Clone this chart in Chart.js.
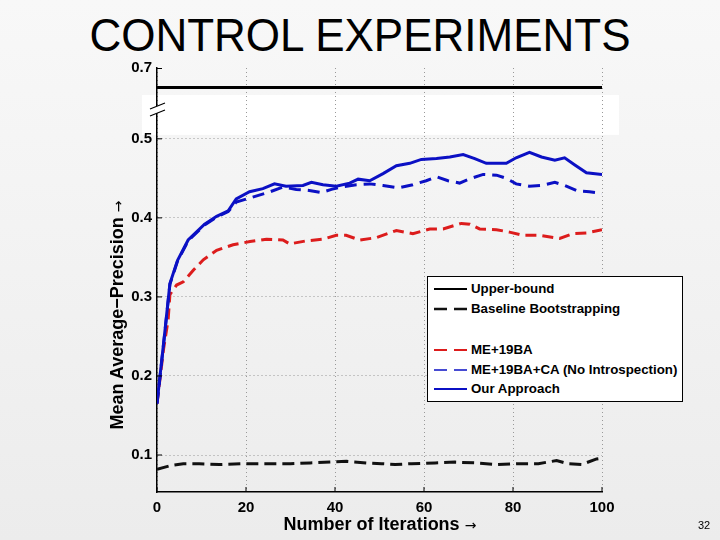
<!DOCTYPE html>
<html>
<head>
<meta charset="utf-8">
<script src="https://cdn.jsdelivr.net/npm/chart.js@4.4.0/dist/chart.umd.min.js"></script>
<style>
  html, body { margin: 0; padding: 0; }
  body {
    width: 720px; height: 540px; position: relative; overflow: hidden;
    background: linear-gradient(#f8f8f8, #ececec);
    font-family: "Liberation Sans", Arial, Helvetica, sans-serif; color: #000;
  }
  #chart { position: absolute; left: 0; top: 0; }
  .title {
    position: absolute; top: 13px; left: 0; width: 720px; text-align: center;
    font-size: 44px; line-height: 44px; transform: scaleY(1.05);
  }
  .ytitle {
    position: absolute; left: -33px; top: 305px; width: 300px; height: 20px;
    line-height: 20px; text-align: center; font-size: 18px; font-weight: bold;
    transform: rotate(-90deg); white-space: nowrap;
  }
  .xtitle {
    position: absolute; left: 230px; top: 513px; width: 300px; height: 22px;
    line-height: 22px; text-align: center; font-size: 18px; font-weight: bold; white-space: nowrap;
  }
  .arrow { font-weight: normal; font-family: "DejaVu Sans", sans-serif; font-size: 14px; }
  .page { position: absolute; left: 698px; top: 519px; font-size: 11px; }
  .legend {
    position: absolute; left: 427px; top: 276px; width: 254px; height: 124px;
    background: #fff; border: 1px solid #000;
  }
  .legend .row {
    position: absolute; left: 6px; height: 16px; line-height: 16px;
    font-size: 13.3px; font-weight: bold; white-space: nowrap;
  }
  .legend svg { position: absolute; left: 0; top: 0; }
  .legend span { position: absolute; left: 37px; top: 0; }
</style>
</head>
<body>
<div class="title">CONTROL EXPERIMENTS</div>
<canvas id="chart" width="720" height="540"></canvas>
<div class="ytitle">Mean Average−Precision <span class="arrow">→</span></div>
<div class="xtitle">Number of Iterations <span class="arrow">→</span></div>
<div class="page">32</div>
<div class="legend" id="legend"></div>
<script>
// tick labels
const xTicks = [0, 20, 40, 60, 80, 100];
const yTicks = [0.1, 0.2, 0.3, 0.4, 0.5];
const yTopTicks = [0.7];

// Upper-bound
const upperIter = [0, 100];
const upperMAP = [0.675, 0.675];

// Baseline Bootstrapping
const baseIter = [0, 3.3, 5.9, 9.5, 14, 19.4, 25, 30, 34.4, 38.9, 42.6, 47.1, 50.5, 53.5, 57.2, 62.5, 67, 71.5, 76.3, 81.2, 85.7, 89.8, 92.4, 95.4, 98.8, 100];
const baseMAP = [0.082, 0.087, 0.089, 0.089, 0.088, 0.089, 0.089, 0.089, 0.090, 0.091, 0.092, 0.090, 0.089, 0.088, 0.089, 0.090, 0.091, 0.090, 0.088, 0.089, 0.089, 0.093, 0.089, 0.088, 0.095, 0.096];

// ME+19BA
const meIter = [0, 1.5, 2.5, 2.9, 4.4, 5.9, 8.2, 10.4, 13.4, 17.1, 20.9, 24.6, 28.3, 29.8, 33.6, 37.3, 40.3, 42.5, 45.5, 49.3, 53.8, 57.5, 61.3, 64.3, 68.4, 70.3, 72.5, 76.3, 79.2, 82.2, 85.8, 90.5, 93.5, 96.5, 100];
const meMAP = [0.165, 0.235, 0.271, 0.303, 0.315, 0.319, 0.334, 0.347, 0.359, 0.366, 0.370, 0.373, 0.372, 0.367, 0.371, 0.373, 0.378, 0.378, 0.372, 0.375, 0.384, 0.380, 0.386, 0.386, 0.393, 0.392, 0.386, 0.385, 0.382, 0.378, 0.378, 0.374, 0.380, 0.381, 0.385];

// ME+19BA+CA (No Introspection)
const caIter = [0, 0.7, 1.8, 2.9, 4.6, 7, 10.7, 13.4, 16, 17.8, 20.8, 24.9, 28.3, 31.3, 33.9, 36.9, 39.2, 41.4, 44.8, 47.8, 50.8, 54.2, 57.5, 60.5, 62.8, 65.4, 68, 70.6, 73.3, 76.3, 78.5, 80.7, 83.7, 86.4, 89.4, 91.6, 94.6, 97.2, 100];
const caMAP = [0.165, 0.200, 0.257, 0.316, 0.345, 0.371, 0.391, 0.401, 0.408, 0.420, 0.425, 0.432, 0.439, 0.436, 0.435, 0.432, 0.436, 0.439, 0.442, 0.443, 0.441, 0.438, 0.442, 0.447, 0.452, 0.447, 0.444, 0.450, 0.455, 0.454, 0.450, 0.443, 0.440, 0.441, 0.445, 0.441, 0.434, 0.433, 0.431];

// Our Approach
const ourIter = [0, 0.7, 1.8, 2.9, 4.6, 7, 10.7, 13.4, 16, 17.8, 20.8, 23.8, 26.4, 29, 32.8, 34.7, 37.3, 40.3, 43.3, 45.2, 47.8, 50.8, 53.8, 56.8, 59.4, 62.8, 65.8, 68.8, 71.4, 74, 78.5, 80.7, 83.7, 86.4, 89.4, 91.6, 93.9, 96.5, 100];
const ourMAP = [0.165, 0.201, 0.258, 0.317, 0.346, 0.372, 0.392, 0.402, 0.409, 0.424, 0.433, 0.437, 0.443, 0.440, 0.441, 0.445, 0.442, 0.440, 0.444, 0.449, 0.447, 0.456, 0.466, 0.469, 0.474, 0.475, 0.477, 0.480, 0.475, 0.469, 0.469, 0.476, 0.483, 0.477, 0.473, 0.476, 0.467, 0.457, 0.455];

const BLUE = "#0b10c4";
const RED = "#dc1c1c";

const pts = (xs, ys) => xs.map((x, i) => ({ x: x, y: ys[i] }));

const series = [
    { label: "Upper-bound", data: pts(upperIter, upperMAP), yAxisID: "yTop", borderColor: "#000", borderWidth: 3, borderDash: [], order: 4, legendWidth: 2, legendY: 4 },
    { label: "Baseline Bootstrapping", data: pts(baseIter, baseMAP), borderColor: "#111", borderWidth: 3, borderDash: [12, 6], order: 3, legendWidth: 2.5, legendY: 24 },
    { label: "ME+19BA", data: pts(meIter, meMAP), borderColor: RED, borderWidth: 3, borderDash: [11, 6], order: 2, legendWidth: 2, legendY: 65 },
    { label: "ME+19BA+CA (No Introspection)", data: pts(caIter, caMAP), borderColor: BLUE, borderWidth: 3, borderDash: [12, 7], order: 1, legendWidth: 1.5, legendY: 85 },
    { label: "Our Approach", data: pts(ourIter, ourMAP), borderColor: BLUE, borderWidth: 3, borderDash: [], order: 0, legendWidth: 2, legendY: 104 },
];

// legend box, matlab style
const legend = document.getElementById("legend");
series.forEach((s) => {
    const row = document.createElement("div");
    row.className = "row";
    row.style.top = s.legendY + "px";
    const dash = s.borderDash.length ? 'stroke-dasharray="13 7"' : "";
    row.innerHTML =
        '<svg width="34" height="16"><line x1="0" y1="8" x2="33" y2="8" stroke="' + s.borderColor +
        '" stroke-width="' + s.legendWidth + '" ' + dash + '/></svg><span>' + s.label + "</span>";
    legend.appendChild(row);
});

// white patch behind the axis break, the break marks and inward ticks
const matlabBits = {
    id: "matlabBits",
    beforeDraw(chart) {
        const { ctx, chartArea, scales } = chart;
        const top = scales.yTop.bottom - 13;
        const bottom = scales.y.getPixelForValue(0.5) - 4;
        ctx.save();
        ctx.fillStyle = "#ffffff";
        ctx.fillRect(chartArea.left - 15, top, chartArea.right - chartArea.left + 32, bottom - top);
        ctx.restore();
    },
    afterDraw(chart) {
        const { ctx, chartArea, scales } = chart;
        const l = chartArea.left;
        const b = scales.yTop.bottom;
        ctx.save();
        ctx.fillStyle = "#ffffff";
        ctx.fillRect(l - 3, b - 2, 6, 7);
        ctx.strokeStyle = "#000";
        ctx.lineWidth = 1.2;
        ctx.beginPath();
        ctx.moveTo(l - 7, b + 1); ctx.lineTo(l + 8, b - 5);
        ctx.moveTo(l - 7, b + 8); ctx.lineTo(l + 8, b + 2);
        ctx.stroke();
        ctx.lineWidth = 1;
        ctx.beginPath();
        yTicks.forEach((v) => { const p = scales.y.getPixelForValue(v); ctx.moveTo(l, p); ctx.lineTo(l + 5, p); });
        yTopTicks.forEach((v) => { const p = scales.yTop.getPixelForValue(v) + 0.5; ctx.moveTo(l, p); ctx.lineTo(l + 5, p); });
        xTicks.forEach((v) => { const p = scales.x.getPixelForValue(v); ctx.moveTo(p, chartArea.bottom); ctx.lineTo(p, chartArea.bottom - 5); });
        ctx.stroke();
        ctx.restore();
    },
};

Chart.defaults.font.family = '"Liberation Sans", Arial, Helvetica, sans-serif';
Chart.defaults.color = "#000";

const tickFont = { size: 15, weight: "bold" };
const ctx = document.getElementById("chart").getContext("2d");
const chart = new Chart(ctx, {
    type: "line",
    data: {
        datasets: series.map((s) => ({
            label: s.label,
            data: s.data,
            yAxisID: s.yAxisID || "y",
            borderColor: s.borderColor,
            borderWidth: s.borderWidth,
            borderDash: s.borderDash,
            order: s.order,
            pointRadius: 0,
            tension: 0,
            fill: false,
        })),
    },
    options: {
        responsive: false,
        animation: false,
        layout: { padding: { left: 117, right: 118, top: 68, bottom: 18 } },
        plugins: {
            legend: { display: false },
            tooltip: { enabled: false },
        },
        scales: {
            x: {
                type: "linear",
                min: 0,
                max: 100,
                afterBuildTicks: (s) => { s.ticks = xTicks.map((v) => ({ value: v })); },
                afterFit: (s) => { s.height = 30; },
                grid: { color: "#999999", drawTicks: false },
                border: { color: "#000", width: 1.5, dash: [1, 3] },
                ticks: { padding: 7, font: tickFont, maxRotation: 0, callback: (v) => v },
            },
            y: {
                type: "linear",
                position: "left",
                stack: "v",
                stackWeight: 384,
                min: 0.0532,
                max: 0.539,
                afterBuildTicks: (s) => { s.ticks = yTicks.map((v) => ({ value: v })); },
                afterFit: (s) => { s.width = 40; },
                grid: { color: "#999999", drawTicks: false },
                border: { color: "#000", width: 1.5, dash: [1, 3] },
                ticks: { padding: 5, font: tickFont, callback: (v) => v.toFixed(1) },
            },
            yTop: {
                type: "linear",
                position: "left",
                stack: "v",
                stackWeight: 40,
                min: 0.649,
                max: 0.7,
                afterBuildTicks: (s) => { s.ticks = yTopTicks.map((v) => ({ value: v })); },
                afterFit: (s) => { s.width = 40; },
                grid: { display: false, drawTicks: false },
                border: { color: "#000", width: 1.5 },
                ticks: { padding: 5, font: tickFont, callback: (v) => v.toFixed(1) },
            },
        },
    },
    plugins: [matlabBits],
});
</script>
</body>
</html>
